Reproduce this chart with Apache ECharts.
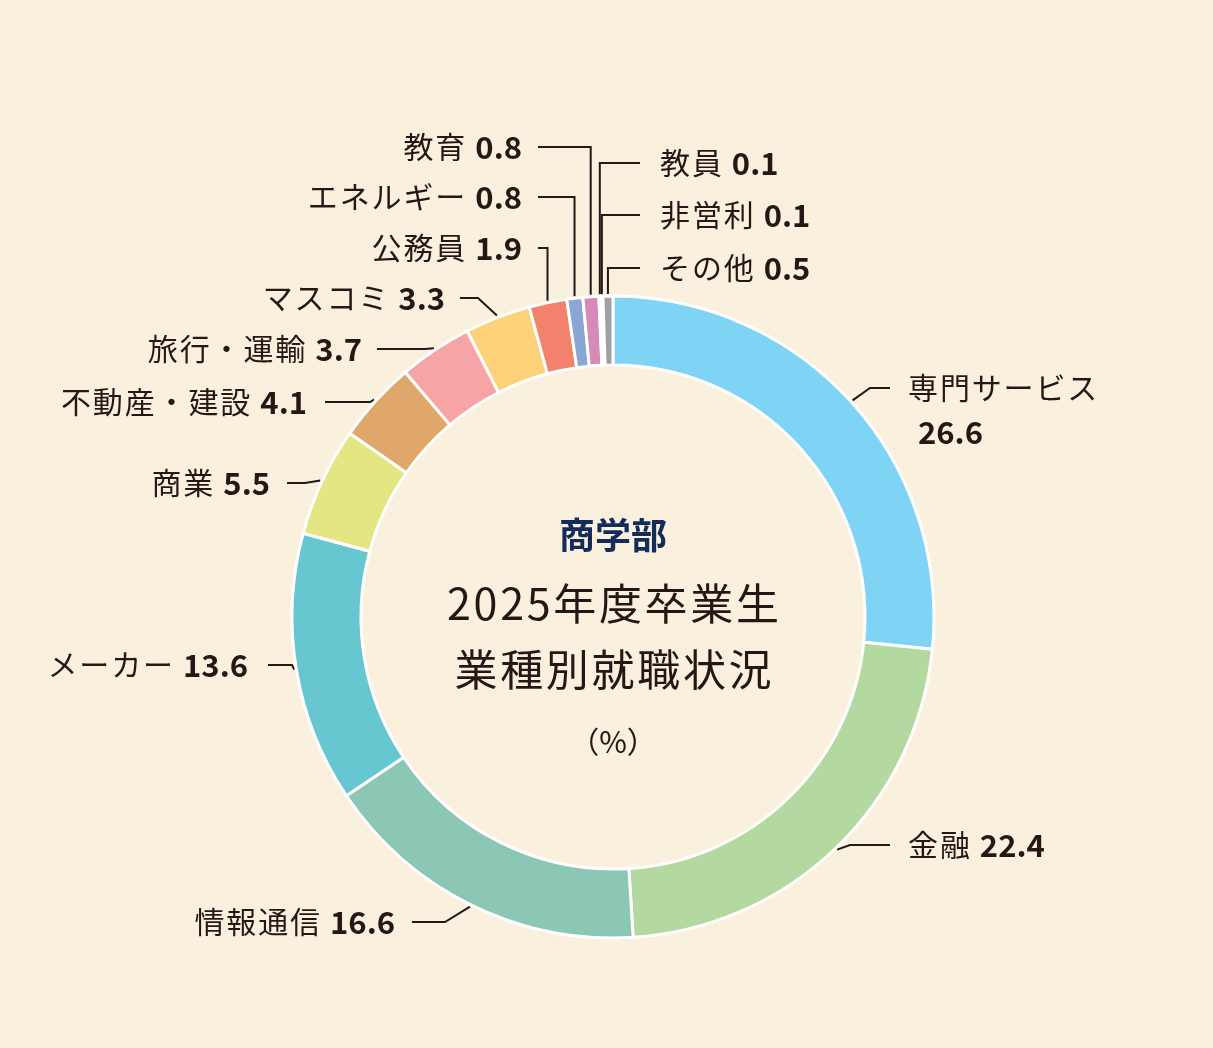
<!DOCTYPE html>
<html><head><meta charset="utf-8">
<script src="https://cdn.jsdelivr.net/npm/echarts@6/dist/echarts.min.js"></script>
<style>html,body{margin:0;background:#faf0de}#c{width:1213px;height:1048px}</style>
</head><body><div id="c"></div>
<script>
const categories = ['専門サービス','金融','情報通信','メーカー','商業','不動産・建設','旅行・運輸','マスコミ','公務員','エネルギー','教育','教員','非営利','その他'];
const values = [26.6,22.4,16.6,13.6,5.5,4.1,3.7,3.3,1.9,0.8,0.8,0.1,0.1,0.5];
const colors = ['#7fd3f5','#b3d9a0','#8bc7b4','#66c7d1','#e4e683','#dfa86a','#f7a4a6','#fdd07a','#f3826c','#8aa6d3','#d58ab8','#c8c8c8','#b0b0b0','#a0a0a4'];
// label layout: [x, y, align, elbowX, lineEndX]
const layout = [
 [908,410,'left',870,890],
 [908,845,'left',850,890],
 [395,922,'right',445,412],
 [248,665,'right',292,268],
 [270,483,'right',305,287],
 [307,402,'right',370,325],
 [362,349,'right',425,377],
 [445,298,'right',478,460],
 [522,248,'right',null,538],
 [522,197,'right',null,538],
 [522,147,'right',null,538],
 [660,163,'left',null,640],
 [660,215,'left',null,640],
 [660,268,'left',null,640]
];
const cx=613, cy=617, R=321, r0=252;
const total = values.reduce((a,b)=>a+b,0);
const mids=[]; let acc=0;
values.forEach(v=>{mids.push(90-(acc+v/2)/total*360); acc+=v;});
const sp = s => s.split('').join('\u200A');
const chart = echarts.init(document.getElementById('c'));
chart.setOption({
 backgroundColor:'#faf0de',
 graphic:[
  {type:'text',x:cx,y:535,style:{text:'商学部',fill:'#142c5c',font:'bold 36px "Noto Sans CJK JP"',align:'center',verticalAlign:'middle'}},
  {type:'text',x:cx,y:604,style:{text:sp('2025年度卒業生'),fill:'#231815',font:'43px "Noto Sans CJK JP"',align:'center',verticalAlign:'middle'}},
  {type:'text',x:cx,y:670,style:{text:sp('業種別就職状況'),fill:'#231815',font:'43px "Noto Sans CJK JP"',align:'center',verticalAlign:'middle'}},
  {type:'text',x:cx,y:742,style:{text:'（%）',fill:'#231815',font:'30px "Noto Sans CJK JP"',align:'center',verticalAlign:'middle'}}
 ],
 series:[{
  type:'pie', center:[cx,cy], radius:[r0,R], startAngle:90, clockwise:true,
  avoidLabelOverlap:false, animation:false,
  itemStyle:{borderColor:'#fff',borderWidth:3},
  data: categories.map((n,i)=>({name:n,value:values[i],itemStyle:{color:colors[i]}})),
  label:{show:true,position:'outside',color:'#231815',
   formatter:p=> p.dataIndex===0 ? '{n|'+sp(p.name)+'}\n{v|'+p.value+'}' : '{n|'+sp(p.name)+'}{v|'+p.value+'}',
   rich:{n:{fontSize:30,fontFamily:'Noto Sans CJK JP',color:'#231815',lineHeight:44},
         v:{fontSize:31,fontWeight:'bold',fontFamily:'Noto Sans CJK JP',color:'#231815',lineHeight:44,padding:[0,0,0,10]}}},
  labelLine:{show:true,lineStyle:{color:'#231815',width:2}},
  labelLayout:function(p){
   const i=p.dataIndex, L=layout[i];
   const a=mids[i]*Math.PI/180;
   const p0=[cx+(R+2)*Math.cos(a), cy-(R+2)*Math.sin(a)];
   const ly = i===0 ? 388 : L[1];
   const ex = L[3]===null ? p0[0] : L[3];
   return {x:L[0], y:L[1], align:L[2], verticalAlign:'middle',
     labelLinePoints:[p0,[ex,ly],[L[4],ly]]};
  }
 }]
});
</script></body></html>
